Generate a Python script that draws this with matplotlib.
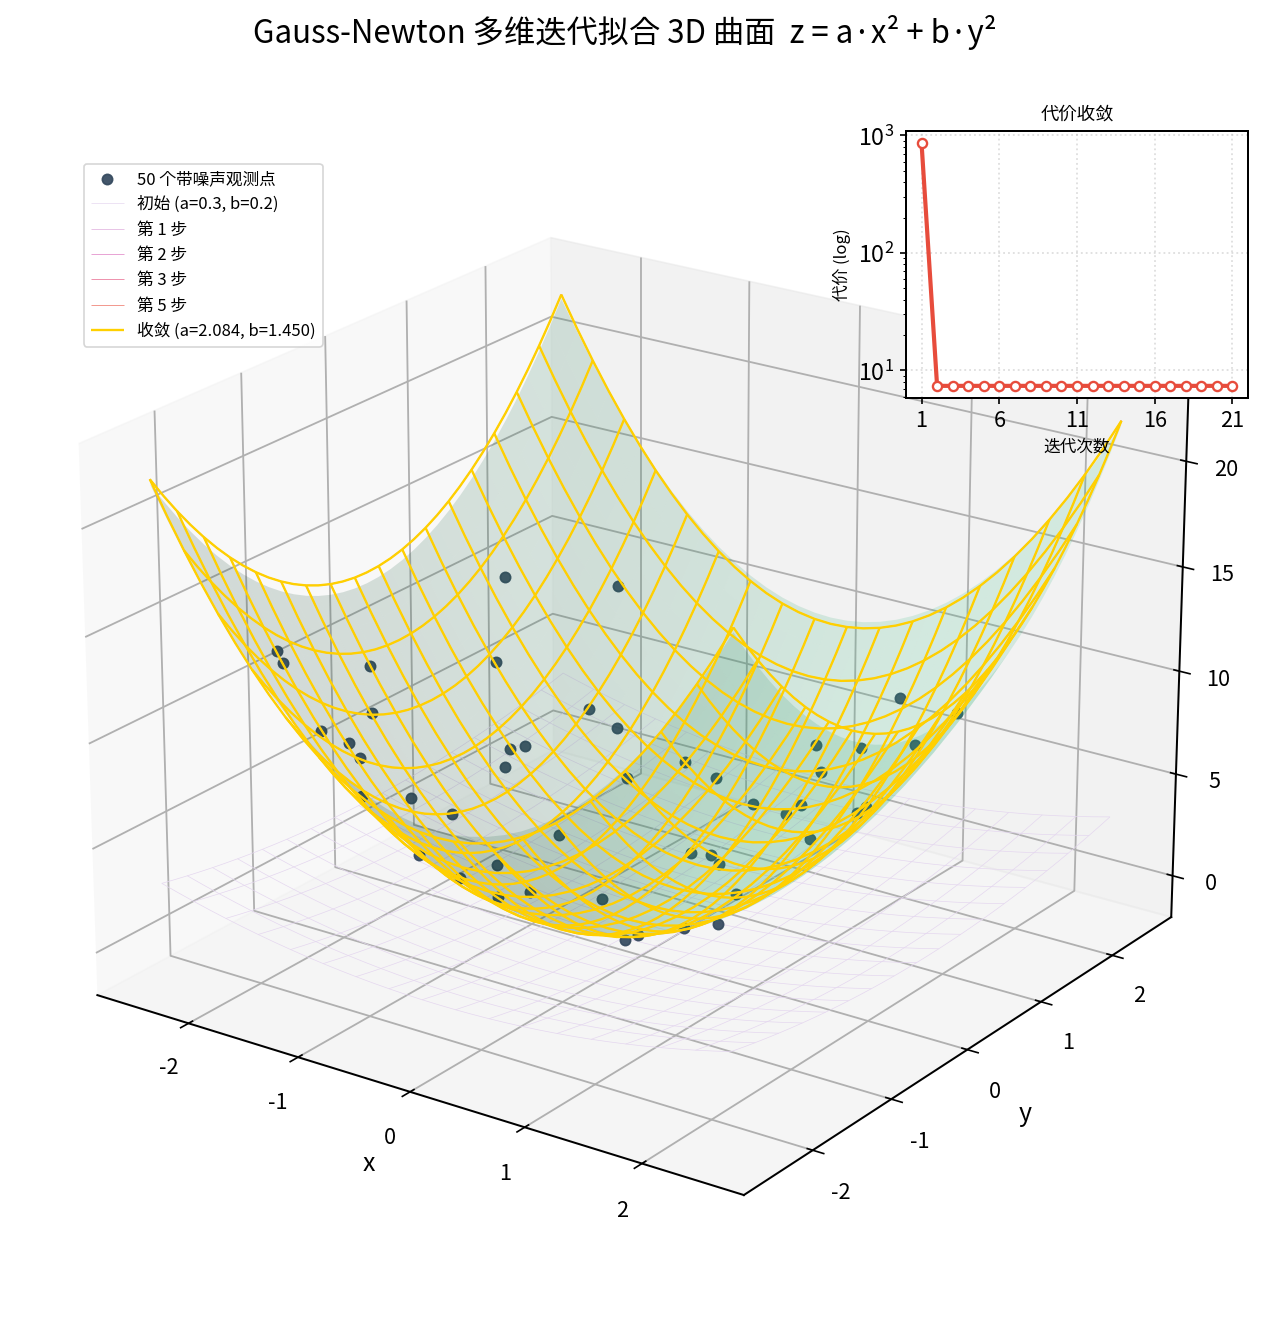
import matplotlib
matplotlib.use('Agg')
import matplotlib.pyplot as plt
import numpy as np

plt.rcParams['font.family'] = ['Noto Sans CJK JP', 'DejaVu Sans']
plt.rcParams['axes.unicode_minus'] = False
plt.rcParams['axes.linewidth'] = 1.2
plt.rcParams['grid.linewidth'] = 1.1
plt.rcParams['xtick.major.width'] = 1.0
plt.rcParams['ytick.major.width'] = 1.0

px = [-2.15, -1.58, -2.28, -2.21, -2.25, -1.92, -2.02, -1.35, -1.14, -1.83, -1.83, -1.74,
      -1.50, -1.55, -1.48, 1.68, -1.42, -1.50, -1.38, 1.06, -0.95, 0.91, 1.74, 2.51,
      0.75, 2.59, -0.60, 2.07, 0.49, 2.09, 0.49, 2.12, 1.14, 2.21, 0.80, 1.64,
      0.02, 1.68, 0.52, 0.93, 0.49, 0.83, 0.26, 0.34, -0.95, -0.10, -0.67, 0.12]
py = [1.27, 1.95, -1.37, -1.40, -0.31, 0.83, -0.59, 1.24, 1.30, -1.45, -1.12, -1.11,
      0.62, 0.49, 0.33, -2.57, -1.50, -0.81, -0.47, -2.51, -1.45, 2.07, 1.55, -1.50,
      1.79, -0.36, 1.43, -2.07, 1.64, -1.64, 1.38, -1.27, 1.14, -0.39, 1.04, -1.74,
      0.88, -1.45, 0.47, -1.81, -0.16, -0.21, -0.41, -0.69, -0.50, -2.10, -0.47, -1.95]
pz = [10.84, 9.87, 12.20, 11.80, 9.44, 7.83, 8.03, 5.47, 4.71, 9.20, 7.95, 7.32,
      4.68, 4.74, 4.28, 14.42, 6.80, 5.12, 3.79, 10.82, 4.56, 7.54, 9.03, 14.89,
      5.45, 12.66, 3.51, 13.96, 4.17, 11.90, 3.09, 10.68, 4.18, 9.31, 2.62, 9.20,
      0.99, 8.11, 0.74, 6.14, 0.40, 1.25, 0.29, 0.80, 2.03, 6.18, 1.06, 5.29]

# fitted parameters per step
step_labels = ['初始 (a=0.3, b=0.2)', '第 1 步', '第 2 步', '第 3 步', '第 5 步', '收敛 (a=2.084, b=1.450)']
step_a = [0.3, 2.084, 2.084, 2.084, 2.084, 2.084]
step_b = [0.2, 1.450, 1.450, 1.450, 1.450, 1.450]
step_colors = ['#e4d6ef', '#e8c4e6', '#e8a5d5', '#ee93ae', '#f29a90', '#ffd000']
true_a = 2.0
true_b = 1.5

iters = list(range(1, 22))
cost = [860] + [7.4] * 20

fig = plt.figure(figsize=(1262 / 120, 1330 / 120), dpi=120)
ax = fig.add_axes([-6 / 1262, 17 / 1330, 1.0, 1218 / 1330], projection='3d', computed_zorder=False)

g = np.linspace(-2.5, 2.5, 35)
X, Y = np.meshgrid(g, g)

ax.scatter(px, py, pz, s=38, color='#34495e', alpha=0.92, depthshade=False, zorder=3, label='50 个带噪声观测点')
ax.plot_surface(X, Y, true_a * X**2 + true_b * Y**2, rstride=1, cstride=1, color='#2fbf7f', alpha=0.16,
                linewidth=0, zorder=4)
for i in range(6):
    Z = step_a[i] * X**2 + step_b[i] * Y**2
    lw = 1.4 if i == 5 else 0.6
    if i == 0:
        lw = 0.4
    ax.plot_wireframe(X, Y, Z, rstride=2, cstride=2, color=step_colors[i], linewidth=lw,
                      label=step_labels[i], zorder=2 if i == 0 else 5 + i)

ax.set_xlabel('x', fontsize=15, labelpad=12)
ax.set_ylabel('y', fontsize=15, labelpad=12)
ax.tick_params(labelsize=13, pad=8)
ax.tick_params(axis='z', pad=6)
ax.set_xticks([-2, -1, 0, 1, 2])
ax.set_yticks([-2, -1, 0, 1, 2])
ax.set_zticks([0, 5, 10, 15, 20])
ax.set_xlim(-2.85, 2.85)
ax.set_ylim(-2.85, 2.85)
ax.set_zlim(-2.05, 23.9)
ax.view_init(elev=22, azim=-55)
ax.legend(loc='upper left', bbox_to_anchor=(84 / 1262, 1 - 164 / 1330), bbox_transform=fig.transFigure,
          fontsize=10, borderaxespad=0)

fig.suptitle('Gauss-Newton 多维迭代拟合 3D 曲面  z = a·x² + b·y²', fontsize=18.75, x=0.495, y=0.989)

ins = fig.add_axes([906 / 1262, 1 - 398 / 1330, 342 / 1262, 267 / 1330])
ins.semilogy(iters, cost, '-o', color='#e74c3c', lw=2.5, ms=5.5, mfc='white', mew=1.4)
ins.set_xticks([1, 6, 11, 16, 21])
ins.tick_params(labelsize=13)
ins.tick_params(axis='y', labelsize=14)
ins.grid(True, ls=':', alpha=0.4)
ins.set_title('代价收敛', fontsize=11, pad=7)
ins.set_xlabel('迭代次数', fontsize=10)
ins.set_ylabel('代价 (log)', fontsize=10)

fig.savefig('out.png', dpi=120)
